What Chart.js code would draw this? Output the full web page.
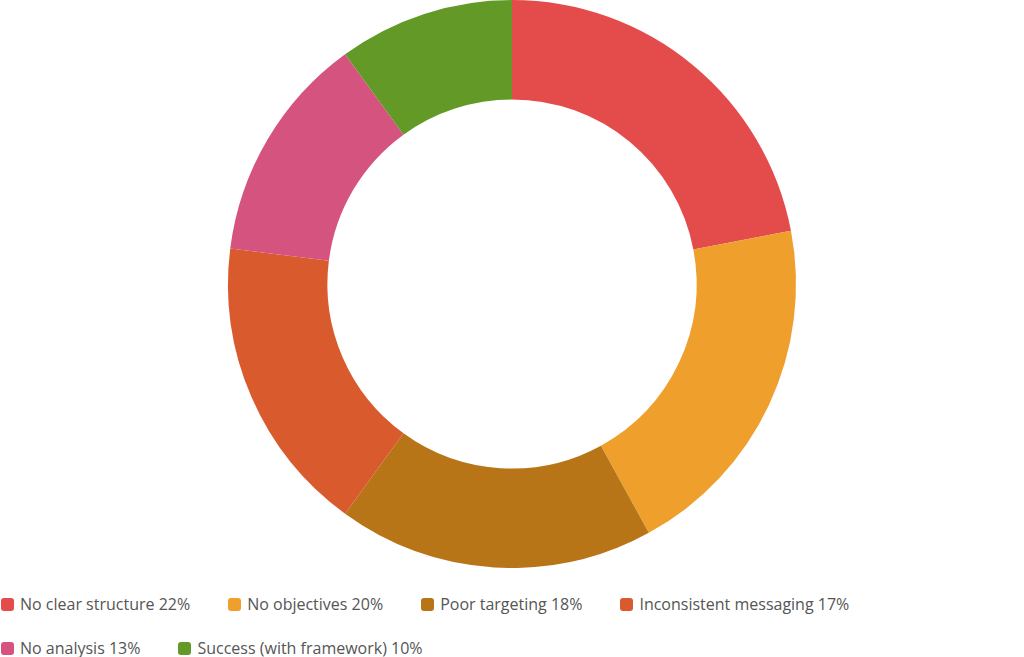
<!DOCTYPE html>
<html>
<head>
<meta charset="utf-8">
<script src="https://cdn.jsdelivr.net/npm/chart.js@4/dist/chart.umd.min.js"></script>
<style>
  html, body { margin: 0; padding: 0; background: #fff; width: 1024px; height: 657px; overflow: hidden; }
  #wrap { position: relative; width: 1024px; height: 568px; }
  #legend { display: flex; flex-wrap: wrap; column-gap: 37px; row-gap: 23px; margin-top: 26px; padding-left: 0px; width: 900px;
            font-family: "Open Sans", "Noto Sans", sans-serif; font-size: 16px; color: #555; line-height: 21px; }
  .item { display: flex; align-items: center; white-space: nowrap; }
  .box { width: 13px; height: 13px; border-radius: 3px; margin-right: 6px; margin-left: 1px; flex: none; }
</style>
</head>
<body>
<div id="wrap"><canvas id="c"></canvas></div>
<div id="legend"></div>
<script>
const categories = ["No clear structure", "No objectives", "Poor targeting", "Inconsistent messaging", "No analysis", "Success (with framework)"];
const values = [22, 20, 18, 17, 13, 10];
const colors = ["#E34C4B", "#EF9F2B", "#B87518", "#D95A2D", "#D4537F", "#639A27"];

new Chart(document.getElementById('c'), {
  type: 'doughnut',
  data: {
    labels: categories,
    datasets: [{ data: values, backgroundColor: colors, borderWidth: 0 }]
  },
  options: {
    responsive: true,
    maintainAspectRatio: false,
    animation: false,
    cutout: '65%',
    layout: { padding: 0 },
    plugins: { legend: { display: false }, tooltip: { enabled: false } }
  }
});

const legend = document.getElementById('legend');
categories.forEach((name, i) => {
  const it = document.createElement('div');
  it.className = 'item';
  const b = document.createElement('span');
  b.className = 'box';
  b.style.background = colors[i];
  const t = document.createElement('span');
  t.textContent = name + ' ' + values[i] + '%';
  it.appendChild(b); it.appendChild(t);
  legend.appendChild(it);
});
</script>
</body>
</html>
